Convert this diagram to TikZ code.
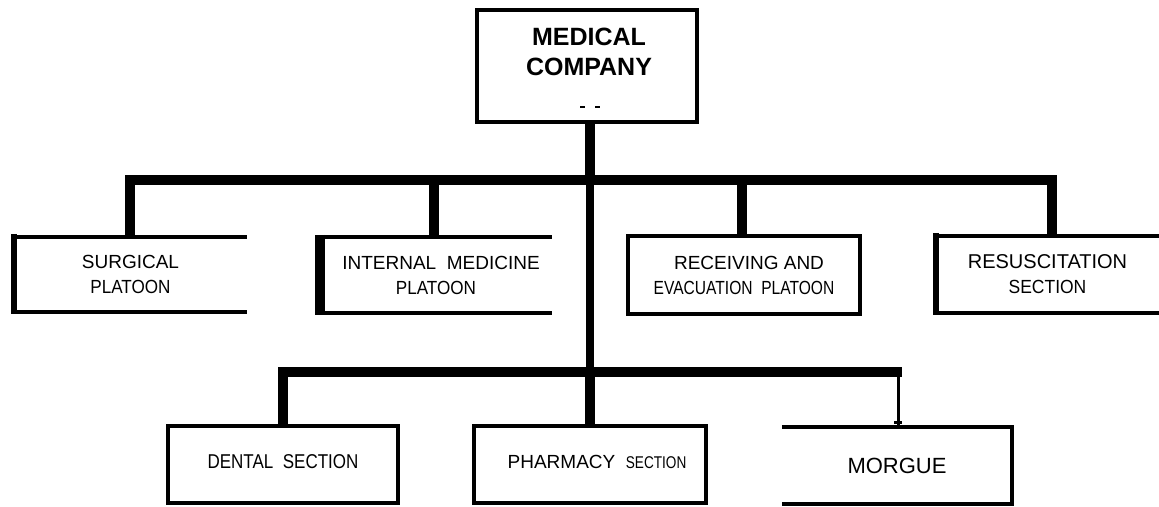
\documentclass[tikz,border=0pt]{standalone}
\usepackage{fontspec}
\setmainfont{Liberation Sans}
\newcommand{\cond}[2][0.86]{\scalebox{#1}[1]{#2}}
\begin{document}
\begin{tikzpicture}[x=1pt,y=-1pt]
\tikzset{
  lbl/.style={font=\fontsize{19}{25}\selectfont, align=center, inner sep=0pt},
  bar/.style={line width=10pt, line join=miter, line cap=butt},
  edge/.style={line width=4pt, line cap=butt},
  thickedge/.style={line width=#1, line cap=butt},
}
\useasboundingbox (0,0) rectangle (1159,506);

% ---------- boxes ----------
\node[lbl, minimum width=220pt, minimum height=112pt] (top) at (587,66) {};
\node[font=\bfseries\fontsize{25}{30}\selectfont, align=center, inner sep=0pt] (toptext) at (589,52) {MEDICAL\\COMPANY};

\node[lbl, minimum width=233pt, minimum height=75pt] (surg) at (130.5,274.5) {SURGICAL\\\cond[0.9]{PLATOON}};
\node[lbl, minimum width=232pt, minimum height=76pt] (intm) at (436,275) {\hspace*{10pt}INTERNAL\ \ MEDICINE\\\cond[0.9]{PLATOON}};
\node[lbl, minimum width=232pt, minimum height=78pt] (recv) at (744,275) {\hspace*{10pt}RECEIVING AND\\\cond[0.82]{EVACUATION\ \ PLATOON}};
\node[lbl, minimum width=223pt, minimum height=77pt] (resus) at (1047.5,274.5) {\fontsize{20}{25}\selectfont RESUSCITATION\\\cond[0.92]{SECTION}};

\node[lbl, minimum width=230pt, minimum height=77pt] (dent) at (283,464.5) {\raisebox{6pt}{\fontsize{20}{24}\selectfont\cond[0.85]{DENTAL\ \ SECTION}}};
\node[lbl, minimum width=232pt, minimum height=77pt] (pharm) at (590,464.5) {\raisebox{6pt}{\hspace*{14pt}\fontsize{19}{24}\selectfont PHARMACY\ \ \fontsize{17}{24}\selectfont\cond[0.8]{SECTION}}};
\node[lbl, minimum width=230pt, minimum height=77pt] (morg) at (897,465.5) {\fontsize{22}{26}\selectfont MORGUE};

% ---------- box outlines ----------
\draw[edge] (top.north west) rectangle (top.south east);
\draw[line width=1.5pt] (580,107) -- (585,107) (595,107) -- (600,107);

\draw[edge] (surg.north west) -- (surg.north east);
\draw[edge] (surg.south west) -- (surg.south east);
\draw[thickedge=6pt] ([yshift=3pt]surg.north west) -- ([yshift=-2pt]surg.south west);

\draw[edge] (intm.north west) -- (intm.north east);
\draw[edge] (intm.south west) -- (intm.south east);
\draw[thickedge=10pt] ([yshift=2pt]intm.north west) -- ([yshift=-2pt]intm.south west);

\draw[edge] (recv.north west) rectangle (recv.south east);

\draw[edge] (resus.north west) -- (resus.north east);
\draw[edge] (resus.south west) -- (resus.south east);
\draw[thickedge=6pt] ([yshift=3pt]resus.north west) -- ([yshift=-2pt]resus.south west);

\draw[edge] (dent.north west) rectangle (dent.south east);
\draw[edge] (pharm.north west) rectangle (pharm.south east);

\draw[edge] (morg.north west) -- (morg.north east) -- (morg.south east) -- (morg.south west);

% ---------- connectors ----------
\coordinate (j1) at (130,180);
\coordinate (j2) at (434,180);
\coordinate (j3) at (742,180);
\coordinate (j4) at (1052,180);
\coordinate (hub1) at (590,180);
\coordinate (hub2) at (590,372);
\coordinate (k1) at (283,372);
\coordinate (k3) at (898,372);

\draw[bar] (j1 |- surg.north) -- (j1) -- (j4) -- (j4 |- resus.north);
\draw[bar] (j2) -- (j2 |- intm.north);
\draw[bar] (j3) -- (j3 |- recv.north);
\draw[bar] (top.south -| hub1) -- (hub1);
\draw[line width=8pt] (hub1) -- (hub2);
\draw[bar] (k1 |- dent.north) -- (k1) -- ([xshift=4pt]k3);
\draw[bar] (hub2) -- (hub2 |- pharm.north);
\draw[line width=3pt] (k3) -- (k3 |- morg.north);
\draw[line width=3pt] ([xshift=-4pt,yshift=4pt]k3 |- morg.north) -- ([xshift=4pt,yshift=4pt]k3 |- morg.north);
\end{tikzpicture}
\end{document}
